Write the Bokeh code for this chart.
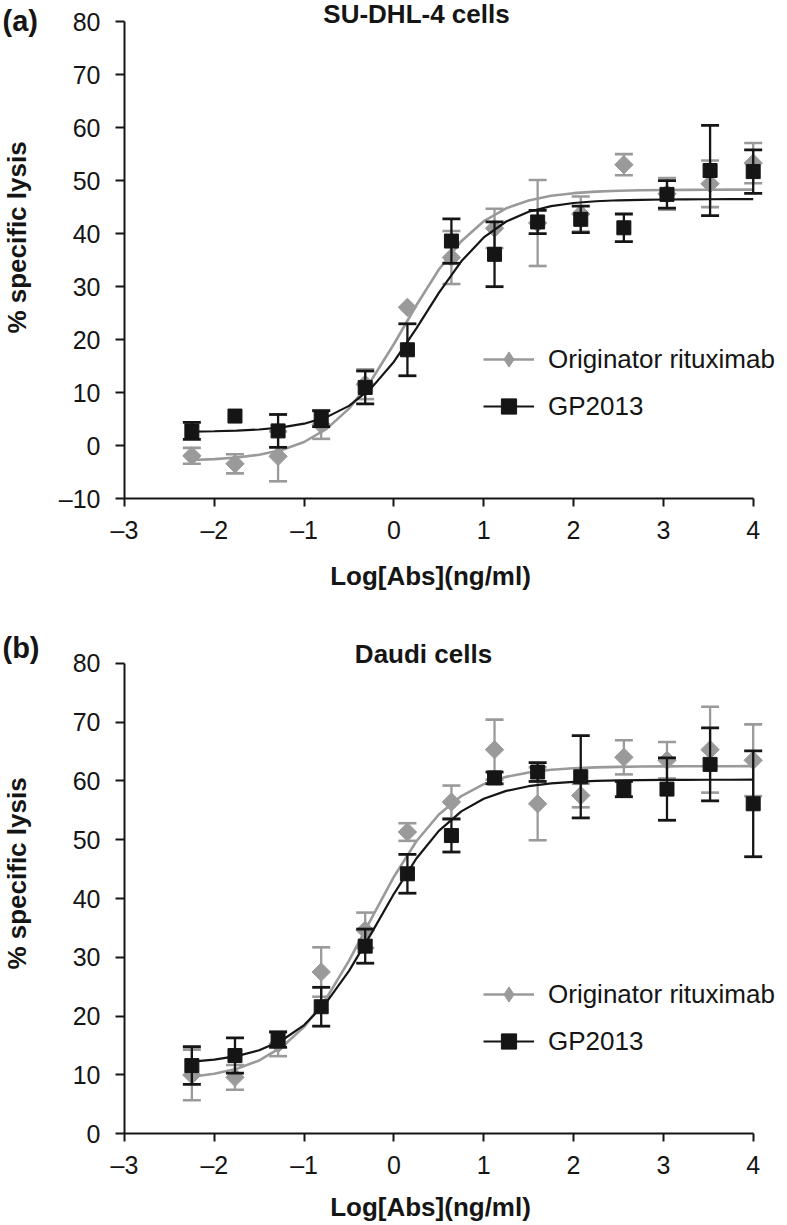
import math
from bokeh.plotting import figure
from bokeh.models import ColumnDataSource, Range1d, FixedTicker, Label, Legend, LegendItem
from bokeh.layouts import column
from bokeh.embed import file_html
from bokeh.resources import INLINE

# ---------------- data ----------------
log_dose = [-2.25, -1.77, -1.29, -0.81, -0.32, 0.15, 0.64, 1.12, 1.60, 2.08, 2.56, 3.04, 3.52, 4.00]

# (a) SU-DHL-4 cells
a_orig_mean = [-1.9, -3.4, -2.0, 4.0, 11.6, 26.1, 35.5, 41.0, 42.0, 43.7, 53.0, 47.5, 49.4, 53.3]
a_orig_err = [1.5, 1.8, 4.7, 2.7, 2.8, 0.0, 5.0, 3.7, 8.1, 3.3, 2.0, 3.0, 4.4, 3.8]
a_gp_mean = [2.8, 5.6, 2.8, 5.1, 11.0, 18.1, 38.6, 36.1, 42.2, 42.7, 41.1, 47.4, 51.9, 51.7]
a_gp_err = [1.6, 0.0, 3.1, 1.5, 3.1, 4.9, 4.2, 6.1, 2.2, 2.5, 2.6, 2.6, 8.5, 4.1]

# (b) Daudi cells
b_orig_mean = [10.0, 9.6, 15.3, 27.5, 34.6, 51.3, 56.4, 65.3, 56.1, 57.5, 64.0, 63.5, 65.3, 63.5]
b_orig_err = [4.3, 2.1, 2.1, 4.2, 3.0, 1.5, 2.8, 5.1, 6.2, 2.0, 2.9, 3.1, 7.3, 6.1]
b_gp_mean = [11.6, 13.3, 16.0, 21.6, 31.9, 44.2, 50.7, 60.5, 61.5, 60.7, 58.6, 58.6, 62.8, 56.1]
b_gp_err = [3.2, 3.0, 1.3, 3.3, 2.9, 3.3, 2.8, 1.0, 1.6, 7.0, 1.3, 5.3, 6.2, 9.0]

# fitted sigmoid curves
curve_x = [-2.25, -2.0, -1.75, -1.5, -1.25, -1.0, -0.75, -0.5, -0.25, 0.0, 0.25, 0.5, 0.75,
           1.0, 1.25, 1.5, 1.75, 2.0, 2.25, 2.5, 2.75, 3.0, 3.25, 3.5, 3.75, 4.0]
a_orig_fit = [-2.68, -2.51, -2.22, -1.70, -0.81, 0.71, 3.19, 7.01, 12.41, 19.19, 26.50, 33.24, 38.58,
              42.34, 44.77, 46.25, 47.13, 47.63, 47.92, 48.09, 48.18, 48.23, 48.26, 48.28, 48.29, 48.29]
a_gp_fit = [2.67, 2.74, 2.85, 3.07, 3.46, 4.16, 5.40, 7.52, 10.92, 15.85, 22.13, 28.82, 34.78,
            39.28, 42.29, 44.12, 45.18, 45.78, 46.11, 46.29, 46.38, 46.44, 46.47, 46.48, 46.49, 46.50]
b_orig_fit = [9.71, 10.21, 11.06, 12.47, 14.72, 18.18, 23.09, 29.44, 36.63, 43.70, 49.73, 54.28, 57.41,
              59.43, 60.68, 61.43, 61.88, 62.14, 62.29, 62.38, 62.43, 62.46, 62.48, 62.49, 62.49, 62.50]
b_gp_fit = [12.27, 12.62, 13.21, 14.21, 15.86, 18.48, 22.39, 27.70, 34.11, 40.80, 46.80, 51.50, 54.81,
            56.96, 58.29, 59.09, 59.56, 59.83, 59.99, 60.08, 60.13, 60.16, 60.18, 60.19, 60.19, 60.20]

series_names = ["Originator rituximab", "GP2013"]
x_ticks = [-3, -2, -1, 0, 1, 2, 3, 4]
x_tick_labels = ["\u20133", "\u20132", "\u20131", "0", "1", "2", "3", "4"]
a_y_ticks = [-10, 0, 10, 20, 30, 40, 50, 60, 70, 80]
a_y_tick_labels = ["\u201310", "0", "10", "20", "30", "40", "50", "60", "70", "80"]
b_y_ticks = [0, 10, 20, 30, 40, 50, 60, 70, 80]
b_y_tick_labels = ["0", "10", "20", "30", "40", "50", "60", "70", "80"]

# ---------------- style / layout ----------------
GRAY = "#9a9a9a"
BLACK = "#151515"
FONT = "Liberation Sans"
W = 787


def extend(q0, v0, q1, v1, total):
    """Range whose values v0, v1 fall at pixel offsets q0, q1 of a frame of size total."""
    s = (q1 - q0) / (v1 - v0)
    return Range1d(v0 - q0 / s, v0 + (total - q0) / s)


def label(p, text, x, y, size, bold=True, angle=0.0, align="left"):
    p.add_layout(Label(x=x, y=y, x_units="screen", y_units="screen", text=text,
                       text_font=FONT, text_font_size=f"{size}px",
                       text_font_style="bold" if bold else "normal",
                       text_align=align, text_baseline="middle", angle=angle,
                       text_color=BLACK))


def errsrc(mean, err):
    xs, lo, hi = [], [], []
    for x, m, e in zip(log_dose, mean, err):
        if e > 0:
            xs.append(x); lo.append(m - e); hi.append(m + e)
    return ColumnDataSource(dict(x=xs, lower=lo, upper=hi))


def panel(H, yb, yt_val, ybot_px, ytop_px, yt, ytl, letter, letter_y, title, title_x, title_y,
          ytitle_y, xtitle_y, legend_y, om, oe, gm, ge, ofit, gfit):
    p = figure(width=W, height=H,
               x_range=extend(124, -3, 752.7, 4, W),
               y_range=extend(H - ybot_px, yb, H - ytop_px, yt_val, H),
               output_backend="svg", toolbar_location=None,
               min_border=0, min_border_left=0, min_border_right=0,
               min_border_top=0, min_border_bottom=0)
    p.outline_line_color = None
    p.xgrid.visible = False
    p.ygrid.visible = False
    p.background_fill_color = "white"
    p.border_fill_color = "white"

    xa, ya = p.xaxis[0], p.yaxis[0]
    xa.fixed_location = yb
    ya.fixed_location = -3
    xa.bounds = (-3, 4)
    ya.bounds = (yb, yt_val)
    for ax in (xa, ya):
        ax.axis_line_width = 2
        ax.axis_line_color = BLACK
        ax.major_tick_line_width = 2
        ax.major_tick_line_color = BLACK
        ax.major_tick_in = 0
        ax.minor_tick_line_color = None
        ax.major_label_text_font = FONT
        ax.major_label_text_font_size = "25px"
        ax.major_label_text_color = BLACK
    xa.ticker = FixedTicker(ticks=x_ticks)
    xa.major_label_overrides = {t: s for t, s in zip(x_ticks, x_tick_labels)}
    xa.major_tick_out = 8
    xa.major_label_standoff = 9
    ya.ticker = FixedTicker(ticks=yt)
    ya.major_label_overrides = {t: s for t, s in zip(yt, ytl)}
    ya.major_tick_out = 9
    ya.major_label_standoff = 15

    # Originator (gray)
    es = errsrc(om, oe)
    p.segment(x0="x", y0="lower", x1="x", y1="upper", source=es, line_color=GRAY, line_width=2.3)
    p.scatter(x="x", y="upper", source=es, marker="dash", size=18, line_color=GRAY, line_width=2.6)
    p.scatter(x="x", y="lower", source=es, marker="dash", size=18, line_color=GRAY, line_width=2.6)
    oline = p.line(curve_x, ofit, line_color=GRAY, line_width=2.6)
    oleg = p.scatter(log_dose, om, marker="diamond", size=15, fill_color=GRAY, line_color=GRAY)
    p.scatter(log_dose, om, marker="square", angle=45, angle_units="deg", size=13,
              fill_color=GRAY, line_color=GRAY, line_width=1)

    # GP2013 (black)
    es2 = errsrc(gm, ge)
    p.segment(x0="x", y0="lower", x1="x", y1="upper", source=es2, line_color=BLACK, line_width=2.3)
    p.scatter(x="x", y="upper", source=es2, marker="dash", size=18, line_color=BLACK, line_width=2.8)
    p.scatter(x="x", y="lower", source=es2, marker="dash", size=18, line_color=BLACK, line_width=2.8)
    gline = p.line(curve_x, gfit, line_color=BLACK, line_width=2.2)
    gsq = p.scatter(log_dose, gm, marker="square", size=14, fill_color=BLACK, line_color=BLACK)

    legend = Legend(items=[LegendItem(label=series_names[0], renderers=[oline, oleg]),
                           LegendItem(label=series_names[1], renderers=[gline, gsq])],
                    location=(483, legend_y), orientation="vertical",
                    glyph_width=51, glyph_height=38, label_height=38, label_standoff=14,
                    spacing=9, padding=0, margin=0, border_line_color=None,
                    background_fill_alpha=0, label_text_font=FONT,
                    label_text_font_size="26px", label_text_color=BLACK)
    p.add_layout(legend)

    label(p, letter, 2, letter_y, 29)
    label(p, title, title_x, title_y, 26, align="center")
    label(p, "% specific lysis", 16, ytitle_y, 26, angle=math.pi / 2, align="center")
    label(p, "Log[Abs](ng/ml)", 430, xtitle_y, 26, align="center")
    return p


p1 = panel(620, -10, 80, 498.3, 21.0, a_y_ticks, a_y_tick_labels,
           "(a)", 600, "SU-DHL-4 cells", 416, 606.7, 383, 45, 194.7,
           a_orig_mean, a_orig_err, a_gp_mean, a_gp_err, a_orig_fit, a_gp_fit)
p2 = panel(605, 0, 80, 513.3, 42.7, b_y_ticks, b_y_tick_labels,
           "(b)", 577.5, "Daudi cells", 423, 572, 352, 18.3, 164.7,
           b_orig_mean, b_orig_err, b_gp_mean, b_gp_err, b_orig_fit, b_gp_fit)

layout = column(p1, p2)
open("out.html", "w").write(file_html(layout, INLINE, title="ADCC"))
